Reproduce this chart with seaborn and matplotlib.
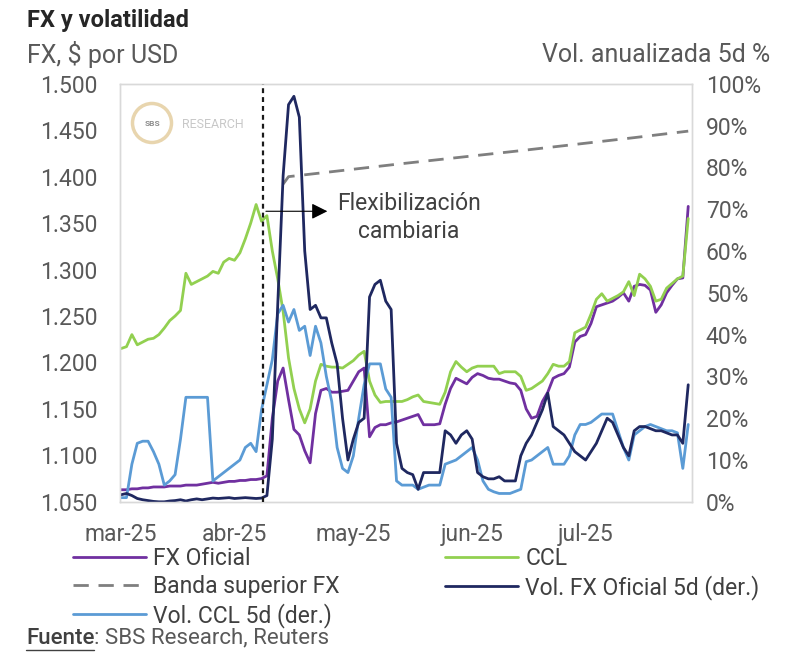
import numpy as np
import pandas as pd
import matplotlib
matplotlib.use("Agg")
import matplotlib.pyplot as plt
import seaborn as sns
from matplotlib.patches import Ellipse
from matplotlib.lines import Line2D

# Business days shown on the chart
dates = pd.bdate_range("2025-03-03", "2025-07-28")

# FX oficial, $ per USD (left axis)
fx_oficial = [1063, 1063, 1064, 1064, 1065, 1065, 1066, 1066, 1066, 1067,
              1067, 1067, 1068, 1068, 1068, 1069, 1070, 1071, 1070, 1071,
              1072, 1072, 1073, 1073, 1074, 1074, 1075, 1078, 1140, 1180,
              1194, 1160, 1128, 1122, 1105, 1092, 1145, 1170, 1172, 1168,
              1168, 1169, 1170, 1180, 1190, 1194, 1120, 1130, 1133, 1133,
              1135, 1136, 1138, 1140, 1142, 1144, 1133, 1133, 1133, 1134,
              1155, 1172, 1183, 1180, 1177, 1184, 1188, 1186, 1183, 1182,
              1182, 1180, 1178, 1177, 1170, 1150, 1140, 1142, 1158, 1168,
              1183, 1186, 1188, 1195, 1222, 1228, 1230, 1242, 1260, 1262,
              1264, 1266, 1270, 1275, 1266, 1282, 1284, 1283, 1278, 1254,
              1262, 1275, 1283, 1290, 1291, 1368]

# CCL, $ per USD (left axis)
ccl = [1215, 1217, 1230, 1219, 1222, 1225, 1226, 1230, 1237, 1245,
       1250, 1256, 1296, 1284, 1287, 1290, 1293, 1298, 1296, 1308,
       1312, 1310, 1318, 1333, 1350, 1370, 1352, 1358, 1320, 1290,
       1255, 1205, 1172, 1150, 1135, 1150, 1180, 1198, 1196, 1195,
       1195, 1194, 1198, 1202, 1208, 1212, 1180, 1165, 1157, 1158,
       1158, 1158, 1158, 1160, 1163, 1165, 1158, 1157, 1156, 1155,
       1168, 1190, 1201, 1195, 1190, 1194, 1196, 1196, 1196, 1196,
       1188, 1190, 1190, 1190, 1185, 1170, 1172, 1176, 1180, 1188,
       1198, 1196, 1196, 1201, 1232, 1235, 1238, 1252, 1268, 1274,
       1266, 1269, 1272, 1276, 1287, 1272, 1295, 1290, 1282, 1266,
       1268, 1280, 1285, 1290, 1293, 1355]

# Annualised 5d volatility, % (right axis)
vol_fx = [1.7, 2.0, 1.5, 0.8, 0.5, 0.3, 0.1, 0.0, 0.0, 0.2,
          0.3, 0.5, 0.2, 0.5, 0.7, 0.5, 0.7, 0.9, 0.8, 0.9,
          1.0, 0.8, 0.9, 1.0, 0.9, 0.8, 0.9, 1.5, 15, 47,
          78, 95, 97, 92, 60, 46, 47, 44, 44, 38,
          33, 20, 10, 15, 19, 20, 49, 52, 53, 48,
          46, 14, 8, 7, 6.5, 3, 7, 7, 7, 7,
          17, 16, 14, 16, 17, 15, 7, 6, 5.5, 5.5,
          6, 5, 5, 5, 11, 14, 16, 19, 22, 26,
          18, 17, 16, 14, 12, 11, 10, 12, 14, 17,
          20, 19, 16, 13, 11, 17, 18, 18, 17.5, 17,
          17, 16.5, 16, 16, 14, 28]

vol_ccl = [1, 1, 9, 14, 14.5, 14.5, 12, 9, 4, 5,
           6.5, 15, 25, 25, 25, 25, 25, 5, 6, 7,
           8, 9, 10, 13, 14, 12, 22, 28, 34, 45,
           47, 43, 46, 41, 42, 35, 42, 38, 30, 24,
           13, 8, 7, 11, 20, 28, 33, 33, 33, 27,
           25, 5, 4, 4, 4, 3, 3.5, 4, 4, 4,
           9, 9.5, 10, 11, 12, 13, 10, 5, 3, 2.4,
           2, 2, 2, 2.5, 3, 9.6, 10, 11, 12, 13,
           9, 9, 9, 11, 16, 18.5, 18.5, 19, 20, 21,
           21, 21, 17, 13, 10, 16, 17, 18, 18.5, 18,
           17.5, 17, 17, 16.5, 8, 18.5]

# Upper band of the FX regime
band_dates = ["2025-04-14", "2025-04-15", "2025-05-14", "2025-06-13", "2025-07-14", "2025-07-28"]
band_values = [1392, 1400, 1414, 1428, 1442, 1449]

MESES = {3: "mar", 4: "abr", 5: "may", 6: "jun", 7: "jul"}
FLEX_DATE = "2025-04-08"

PURPLE = "#7030A0"
GREEN = "#92D050"
GRAY = "#7F7F7F"
NAVY = "#1F2860"
LBLUE = "#5B9BD5"
TXT = "#595959"
FS = 16.5

df = pd.DataFrame({"fecha": dates, "pos": np.arange(len(dates)),
                   "fx_oficial": fx_oficial, "ccl": ccl,
                   "vol_fx": vol_fx, "vol_ccl": vol_ccl})
band = pd.DataFrame({"pos": dates.get_indexer(pd.to_datetime(band_dates)),
                     "banda": band_values})
flex_pos = dates.get_loc(pd.Timestamp(FLEX_DATE)) + 0.3

sns.set_style("white")
plt.rcParams["font.family"] = ["Roboto", "DejaVu Sans"]

fig = plt.figure(figsize=(8, 6.7), dpi=100)
ax = fig.add_axes([0.15, 0.251, 0.715, 0.624])
ax2 = ax.twinx()

LW = 2.0
sns.lineplot(data=df, x="pos", y="fx_oficial", ax=ax, color=PURPLE, lw=LW, legend=False)
h_fx = ax.lines[-1]
sns.lineplot(data=df, x="pos", y="ccl", ax=ax, color=GREEN, lw=LW, legend=False)
h_ccl = ax.lines[-1]
sns.lineplot(data=band, x="pos", y="banda", ax=ax, color=GRAY, lw=LW, legend=False)
h_band = ax.lines[-1]
h_band.set_linestyle((0, (5.5, 3.5)))
sns.lineplot(data=df, x="pos", y="vol_ccl", ax=ax2, color=LBLUE, lw=LW, legend=False)
h_vccl = ax2.lines[-1]
sns.lineplot(data=df, x="pos", y="vol_fx", ax=ax2, color=NAVY, lw=LW, legend=False)
h_vfx = ax2.lines[-1]

ax.set_xlim(-0.2, 105.7)
ax.set_ylim(1050, 1500)
ax2.set_ylim(0, 100)

yt = np.arange(1050, 1501, 50)
ax.set_yticks(yt)
ax.set_yticklabels([f"{v:,.0f}".replace(",", ".") for v in yt])
rt = np.arange(0, 101, 10)
ax2.set_yticks(rt)
ax2.set_yticklabels([f"{v}%" for v in rt])

month_pos = df.groupby(df["fecha"].dt.month)["pos"].first()
ax.set_xticks(month_pos.values)
ax.set_xticklabels([f"{MESES[m]}-25" for m in month_pos.index])

for a in (ax, ax2):
    a.set_xlabel("")
    a.set_ylabel("")
    for s in a.spines.values():
        s.set_color("#D9D9D9")
        s.set_linewidth(1.0)
ax.tick_params(axis="y", length=0, labelsize=FS, colors=TXT, pad=16)
ax.tick_params(axis="x", length=0, labelsize=FS, colors=TXT, pad=15)
ax2.tick_params(axis="y", length=0, labelsize=FS, colors=TXT, pad=10)

# Flexibilización cambiaria marker
ax2.axvline(flex_pos, color="#1A1A1A", lw=1.6, ls=(0, (2.2, 1.8)), zorder=5)
ax2.annotate("", xy=(38.7, 69.5), xytext=(flex_pos, 69.5),
             arrowprops=dict(arrowstyle="-|>", color="black", lw=0.8, mutation_scale=24))
ax2.text(53.3, 68.0, "Flexibilización\ncambiaria", ha="center", va="center",
         fontsize=FS, color="#404040", linespacing=1.3)

# Titles
fig.text(27 / 800, 1 - 20 / 670, "FX y volatilidad", fontsize=17, weight="bold",
         color="#262626", va="center", ha="left")
fig.text(27 / 800, 1 - 55 / 670, "FX, $ por USD", fontsize=18, color=TXT, va="center", ha="left")
fig.text(770 / 800, 1 - 55 / 670, "Vol. anualizada 5d %", fontsize=18, color=TXT,
         va="center", ha="right")

# Watermark logo
fig.add_artist(Ellipse((152 / 800, 1 - 123 / 670), 39 / 800, 39 / 670, transform=fig.transFigure,
                       fill=False, edgecolor="#E8D5AE", lw=2.5))
fig.text(152 / 800, 1 - 123 / 670, "SBS", fontsize=6, weight="bold", color="#8C8C8C",
         ha="center", va="center")
fig.text(182 / 800, 1 - 124 / 670, "RESEARCH", fontsize=9, color="#C8C8C8",
         ha="left", va="center")

# Legend in two columns
leg_kw = dict(loc="upper left", frameon=False, fontsize=16.5, handlelength=3.2,
              handletextpad=0.3, labelspacing=0.22, borderpad=0, borderaxespad=0,
              labelcolor="#404040")
fig.legend([h_fx, h_band, h_vccl], ["FX Oficial", "Banda superior FX", "Vol. CCL 5d (der.)"],
           bbox_to_anchor=(73 / 800, 1 - 547 / 670), **leg_kw)
fig.legend([h_ccl, h_vfx], ["CCL", "Vol. FX Oficial 5d (der.)"],
           bbox_to_anchor=(445 / 800, 1 - 547 / 670), **leg_kw)

# Source line with underlined "Fuente"
t1 = fig.text(26 / 800, 1 - 638 / 670, "Fuente", fontsize=16, color="#404040",
              weight="medium", va="center", ha="left")
fig.canvas.draw()
bb = t1.get_window_extent()
W, H = fig.bbox.width, fig.bbox.height
fig.text(bb.x1 / W, 1 - 638 / 670, ": SBS Research, Reuters", fontsize=16, color=TXT,
         va="center", ha="left")
fig.add_artist(Line2D([bb.x0 / W, bb.x1 / W], [(bb.y0 - 1) / H, (bb.y0 - 1) / H],
                      transform=fig.transFigure, color="#404040", lw=1.0))

fig.savefig("out.png", dpi=100)
plt.close(fig)
